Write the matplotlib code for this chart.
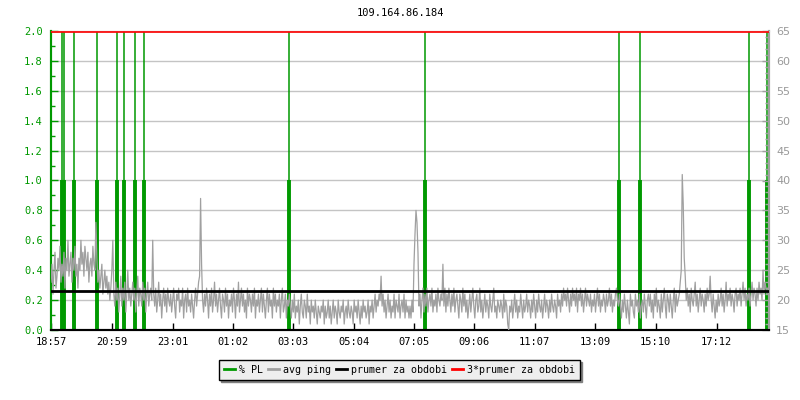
import matplotlib
matplotlib.use("Agg")
import matplotlib.pyplot as plt
from matplotlib.lines import Line2D
from matplotlib.ticker import MultipleLocator
from datetime import datetime, timedelta

TITLE = "109.164.86.184"
START = "18:57"
TICK_LABELS = ["18:57", "20:59", "23:01", "01:02", "03:03", "05:04",
               "07:05", "09:06", "11:07", "13:09", "15:10", "17:12"]

# avg ping [ms], one sample every 2 minutes from START (one row = 1 hour)
PING_STEP = 2
PING_MS = [
    23, 26, 21, 25, 28, 22, 24, 27, 25, 29, 23, 26, 24, 28, 22, 27, 25, 30, 24, 26, 28, 23, 27, 25, 29, 24, 26, 22, 27, 25,
    30, 26, 28, 24, 29, 27, 25, 28, 23, 26, 27, 24, 29, 26, 25, 33, 27, 23, 25, 22, 24, 26, 21, 23, 25, 22, 24, 21, 23, 20,
    22, 25, 30, 21, 19, 23, 20, 22, 18, 21, 24, 19, 22, 20, 23, 18, 21, 25, 20, 22, 19, 21, 23, 20, 22, 18, 21, 24, 19, 22,
    21, 19, 23, 20, 22, 18, 21, 23, 19, 21, 22, 20, 30, 21, 19, 22, 18, 20, 23, 19, 21, 17, 20, 22, 19, 21, 18, 22, 20, 19,
    21, 18, 20, 22, 19, 17, 21, 20, 22, 18, 20, 19, 22, 17, 20, 21, 18, 22, 19, 20, 18, 21, 19, 17, 20, 22, 19, 21, 23, 24,
    37, 26, 20, 18, 21, 19, 22, 20, 17, 21, 19, 22, 18, 20, 23, 19, 21, 18, 20, 22, 19, 17, 21, 20, 18, 22, 19, 21, 17, 20,
    19, 21, 18, 22, 20, 17, 21, 19, 23, 18, 20, 22, 19, 21, 18, 20, 17, 22, 19, 21, 20, 18, 21, 19, 22, 17, 20, 19, 21, 18,
    20, 22, 18, 21, 19, 17, 20, 22, 18, 21, 19, 20, 17, 22, 19, 21, 18, 20, 19, 21, 17, 20, 22, 18, 19, 21, 17, 20, 19, 21,
    19, 17, 20, 18, 21, 17, 19, 18, 20, 16, 19, 21, 18, 17, 20, 19, 17, 21, 18, 19, 16, 20, 18, 19, 17, 20, 18, 16, 19, 18,
    17, 19, 18, 20, 16, 19, 17, 18, 20, 17, 19, 16, 18, 20, 17, 19, 18, 16, 20, 18, 17, 19, 18, 20, 16, 18, 19, 17, 20, 18,
    17, 19, 18, 16, 20, 18, 19, 17, 20, 18, 16, 19, 17, 20, 18, 19, 17, 18, 20, 16, 19, 18, 20, 17, 19, 21, 18, 20, 19, 21,
    20, 24, 19, 21, 18, 20, 17, 19, 21, 18, 20, 17, 19, 18, 21, 17, 20, 19, 18, 21, 17, 19, 20, 18, 21, 17, 20, 18, 19, 17,
    19, 17, 20, 18, 26, 31, 35, 33, 28, 19, 21, 17, 20, 22, 18, 21, 19, 22, 18, 20, 21, 19, 22, 18, 20, 19, 21, 18, 22, 20,
    19, 21, 20, 26, 19, 22, 18, 21, 19, 22, 20, 18, 21, 19, 22, 18, 20, 21, 19, 17, 21, 20, 18, 22, 19, 21, 18, 20, 17, 19,
    21, 18, 20, 22, 19, 17, 20, 21, 18, 19, 22, 18, 20, 17, 19, 21, 18, 20, 19, 17, 21, 19, 18, 20, 22, 18, 19, 17, 20, 19,
    18, 20, 19, 17, 21, 18, 20, 19, 16, 15, 19, 18, 20, 17, 19, 21, 18, 20, 17, 19, 18, 21, 19, 17, 20, 18, 19, 21, 18, 20,
    19, 17, 20, 18, 21, 19, 17, 20, 18, 21, 19, 18, 20, 17, 19, 21, 18, 20, 19, 17, 20, 18, 21, 19, 18, 20, 19, 17, 21, 19,
    20, 18, 21, 19, 22, 20, 21, 19, 22, 20, 18, 21, 19, 22, 20, 21, 19, 22, 18, 21, 20, 22, 19, 21, 18, 20, 22, 19, 21, 20,
    19, 21, 18, 20, 19, 21, 18, 20, 22, 19, 21, 18, 20, 19, 21, 20, 18, 21, 19, 20, 22, 19, 21, 18, 20, 19, 21, 22, 20, 19,
    21, 19, 17, 20, 18, 21, 19, 17, 20, 18, 16, 21, 19, 20, 18, 17, 21, 19, 20, 18, 21, 17, 19, 20, 18, 21, 19, 17, 20, 21,
    19, 21, 18, 20, 17, 21, 19, 22, 18, 20, 19, 17, 21, 18, 20, 22, 19, 17, 21, 20, 18, 21, 19, 17, 20, 22, 18, 21, 19, 20,
    21, 23, 25, 41, 36, 27, 24, 20, 22, 19, 21, 18, 22, 20, 19, 21, 23, 19, 21, 18, 20, 22, 19, 21, 20, 18, 21, 19, 22, 20,
    21, 24, 20, 18, 21, 19, 17, 20, 18, 21, 19, 20, 22, 19, 21, 18, 20, 23, 19, 21, 20, 22, 19, 21, 20, 18, 21, 22, 19, 21,
    20, 22, 19, 21, 23, 20, 22, 19, 21, 20, 22, 19, 21, 23, 20, 22, 21, 19, 22, 20, 23, 21, 22, 20, 25, 21, 23, 22, 21, 22,
]

# packet loss events [minutes from START]
PL_TIMES = [22, 26, 46, 92, 133, 146, 169, 186, 477, 750, 1139, 1181, 1400, 1436]
PL_BASE = [1.0, 1.0, 1.0, 1.0, 1.0, 1.0, 1.0, 1.0, 1.0, 1.0, 1.0, 1.0, 1.0, 1.0]
PL_PEAK = [2.0, 2.0, 2.0, 2.0, 2.0, 2.0, 2.0, 2.0, 2.0, 2.0, 2.0, 2.0, 2.0, 2.0]

PRUMER = 21.6

GREEN = "#009900"
GRAY = "#a0a0a0"
GRID = "#c4c4c4"
MONO = "DejaVu Sans Mono"


def minutes_from_start(label):
    """Minutes elapsed between START and a HH:MM label (wraps past midnight)"""
    t0 = datetime.strptime(START, "%H:%M")
    t = datetime.strptime(label, "%H:%M")
    if t < t0:
        t += timedelta(days=1)
    return (t - t0).total_seconds() / 60


def main():
    fig = plt.figure(figsize=(8, 4), dpi=100)
    ax = fig.add_axes([51 / 800, 70 / 400, 718 / 800, 299 / 400])
    ax2 = ax.twinx()

    # packet loss on the left axis
    ax.vlines(PL_TIMES, 0, PL_PEAK, color=GREEN, linewidth=1.1, zorder=2)
    ax.vlines(PL_TIMES, 0, PL_BASE, color=GREEN, linewidth=2.8, zorder=2)
    ax.set_ylim(0, 2.0)
    ax.set_xlim(0, 1440)
    ax.yaxis.set_major_locator(MultipleLocator(0.2))
    ax.yaxis.set_minor_locator(MultipleLocator(0.1))
    ax.yaxis.set_major_formatter(lambda v, p: f"{v:.1f}")
    ax.grid(True, axis="y", color=GRID, linewidth=1, zorder=0)
    ax.set_axisbelow(True)

    # ping on the right axis
    ping_t = [i * PING_STEP for i in range(len(PING_MS))]
    ax2.plot(ping_t, PING_MS, color=GRAY, linewidth=0.9, zorder=3)
    ax2.axhline(PRUMER, color="black", linewidth=2, zorder=4)
    ax2.axhline(3 * PRUMER, color="red", linewidth=1.2, zorder=4)
    ax2.set_ylim(15, 65)
    ax2.yaxis.set_major_locator(MultipleLocator(5))
    ax2.yaxis.set_minor_locator(MultipleLocator(1))

    # x ticks
    ax.set_xticks([minutes_from_start(l) for l in TICK_LABELS])
    ax.set_xticklabels(TICK_LABELS, family=MONO, fontsize=7.5)
    ax.tick_params(axis="x", direction="in", length=5, width=1, color="black", pad=5)

    # axis styling
    ax.tick_params(axis="y", which="both", direction="in", color=GREEN,
                   labelcolor=GREEN, width=1)
    ax.tick_params(axis="y", which="major", length=5, pad=6)
    ax.tick_params(axis="y", which="minor", length=3)
    for lbl in ax.get_yticklabels():
        lbl.set_family(MONO)
        lbl.set_fontsize(7.5)
    ax2.tick_params(axis="y", which="both", direction="in", color=GRAY,
                    labelcolor="#999999", width=1, labelsize=8)
    ax2.tick_params(axis="y", which="major", length=5, pad=5)
    ax2.tick_params(axis="y", which="minor", length=3)

    for a in (ax, ax2):
        a.spines["left"].set_color(GREEN)
        a.spines["left"].set_linewidth(1.5)
        a.spines["right"].set_color(GRAY)
        a.spines["right"].set_linewidth(1.5)
        a.spines["top"].set_color(GRID)
        a.spines["top"].set_linewidth(0.8)
        a.spines["bottom"].set_color("black")
        a.spines["bottom"].set_linewidth(1.5)

    fig.text(0.5, 1 - 13 / 400, TITLE, ha="center", va="center",
             family=MONO, fontsize=7.5)

    handles = [
        Line2D([], [], color=GREEN, linewidth=2),
        Line2D([], [], color=GRAY, linewidth=2),
        Line2D([], [], color="black", linewidth=2),
        Line2D([], [], color="red", linewidth=2),
    ]
    labels = ["% PL", "avg ping", "prumer za obdobi", "3*prumer za obdobi"]
    leg = fig.legend(handles, labels, loc="center", bbox_to_anchor=(0.499, 0.076),
                     ncol=4, fancybox=False, shadow={"color": "#808080", "alpha": 1},
                     facecolor="#eeeeee", edgecolor="black", framealpha=1,
                     handlelength=1.1, handletextpad=0.4, columnspacing=0.5,
                     borderpad=0.5, prop={"family": MONO, "size": 7.2})
    leg.get_frame().set_linewidth(1)

    fig.savefig("out.png", dpi=100)
    plt.close(fig)


if __name__ == "__main__":
    main()
